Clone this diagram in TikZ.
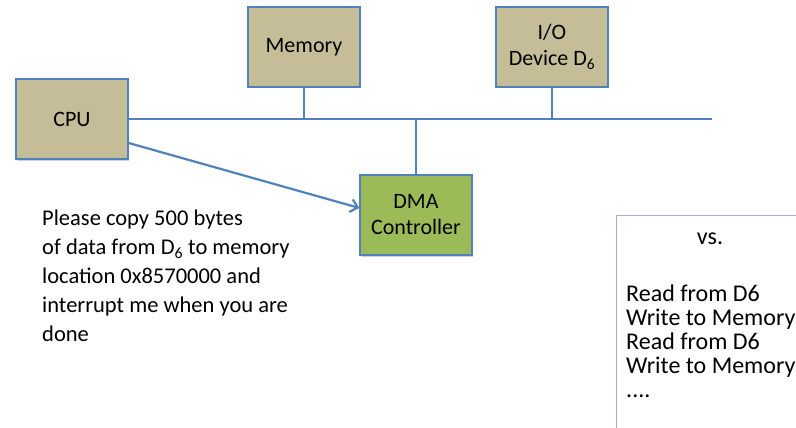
\documentclass[tikz,border=0pt]{standalone}
\usepackage{fontspec}
\setmainfont{Carlito}
\usetikzlibrary{arrows.meta,shadows}
\definecolor{busblue}{HTML}{4F81BD}
\definecolor{tanfill}{HTML}{C4BD97}
\definecolor{dmagreen}{HTML}{9BBB59}
\definecolor{panelline}{HTML}{95B3D7}
\tikzset{
  unit/.style={draw=busblue, line width=1.3pt, minimum width=112pt, minimum height=80pt,
    align=center, font=\fontsize{22}{26}\selectfont, inner sep=0pt,
    drop shadow={shadow xshift=1.2pt, shadow yshift=-1.5pt, opacity=0.35, fill=gray}},
  hw/.style={unit, fill=tanfill},
  dma/.style={unit, fill=dmagreen},
  bus/.style={draw=busblue, line width=2.8pt},
}
\begin{document}
\begin{tikzpicture}[x=1pt, y=-1pt]
  \useasboundingbox (0,0) rectangle (796,428);

  % hardware units
  \node[hw] (cpu) at (72,119) {CPU};
  \node[hw] (mem) at (304,47) {Memory};
  \node[hw] (io)  at (552,47) {I/O\\Device D\textsubscript{6}};
  \node[dma] (dmac) at (416,215) {DMA\\Controller};

  % system bus
  \coordinate (busend) at (712,119);
  \draw[bus] (cpu.east) -- (busend);
  \draw[bus] (mem.south) -- (mem.south |- busend);
  \draw[bus] (io.south) -- (io.south |- busend);
  \draw[bus] (dmac.north) -- (dmac.north |- busend);

  % request from the CPU to the DMA controller
  \coordinate (req) at (cpu.east |- 0,143);
  \draw[draw=busblue, line width=2.2pt, -{Straight Barb[length=7pt,width=13pt]}]
    (req) -- (dmac.west |- 0,208);

  % the CPU's request
  \node[anchor=north west, align=left, inner sep=0pt,
        font=\fontsize{22.5}{29}\selectfont] (msg) at (42,210)
    {Please copy 500 bytes\\
     of data from D\textsubscript{6} to memory\\
     location 0x8570000 and\\
     interrupt me when you are\\
     done};

  % programmed I/O panel
  \coordinate (ptl) at (616,215);
  \coordinate (pbl) at (616,428);
  \coordinate (ptr) at (796,215);
  \draw[panelline, line width=1pt] (pbl) -- (ptl) -- (ptr);
  \node[font=\fontsize{24}{24}\selectfont, inner sep=0pt] (vs) at (710,239) {vs.};
  \node[anchor=north west, align=left, inner sep=0pt,
        font=\fontsize{24}{24}\selectfont] (steps) at (626,285)
    {Read from D6\\
     Write to Memory\\
     Read from D6\\
     Write to Memory\\
     ....};
\end{tikzpicture}
\end{document}
